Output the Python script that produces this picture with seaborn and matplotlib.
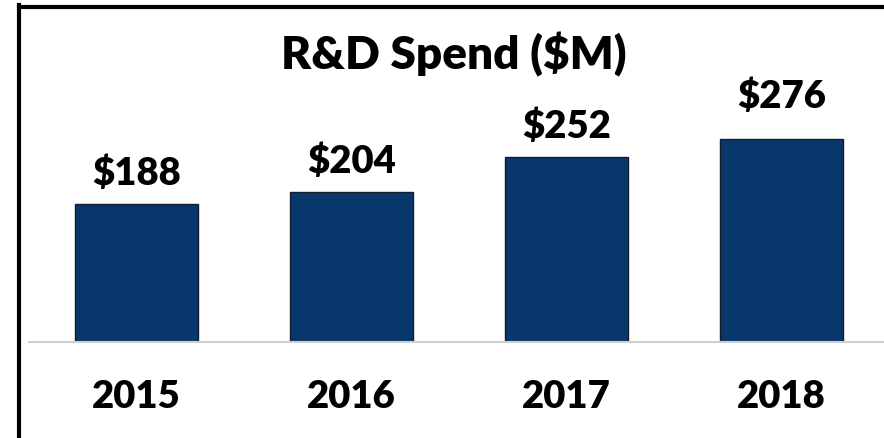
import matplotlib
matplotlib.use("Agg")
import matplotlib.pyplot as plt
import seaborn as sns
import pandas as pd
from matplotlib.lines import Line2D

years = ["2015", "2016", "2017", "2018"]
spend = [188, 204, 252, 276]
value_labels = ["$188", "$204", "$252", "$276"]
title = "R&D Spend ($M)"

sns.set_theme(style="white")
plt.rcParams["font.family"] = ["Lato", "DejaVu Sans"]

W, H = 884, 439
fig = plt.figure(figsize=(W / 100, H / 100), dpi=100)
fig.patch.set_facecolor("white")

ax_left, ax_right, ax_bottom, ax_top = 29, 884, 343, 10
ax = fig.add_axes([ax_left / W, (H - ax_bottom) / H,
                   (ax_right - ax_left) / W, (ax_bottom - ax_top) / H])

df = pd.DataFrame({"year": years, "spend": spend})
sns.barplot(data=df, x="year", y="spend", ax=ax, color="#08386B",
            width=0.572, edgecolor="#141c2a", linewidth=1.0, saturation=1)

ax.set_xlim(-0.5, -0.5 + (ax_right - ax_left) / 215)
ax.set_ylim(0, (ax_bottom - ax_top) / 0.735)

WEIGHT = "heavy"
for i, (v, lab) in enumerate(zip(spend, value_labels)):
    ax.annotate(lab, (i, v), xytext=(0, 14.4 if i < 3 else 23), textcoords="offset points",
                ha="center", va="baseline", fontsize=27.5, fontweight=WEIGHT, color="black")

for s in ["top", "right", "left"]:
    ax.spines[s].set_visible(False)
ax.spines["bottom"].set_color("#d0d0d0")
ax.spines["bottom"].set_linewidth(1.5)
ax.set_yticks([])
ax.set_xlabel("")
ax.set_ylabel("")
ax.tick_params(axis="x", length=0, pad=27, labelsize=27.5)
for t in ax.get_xticklabels():
    t.set_fontweight(WEIGHT)
    t.set_color("black")
ax.set_facecolor("white")

fig.text(453.5 / W, 1 - 69 / H, title, ha="center", va="baseline",
         fontsize=33, fontweight=WEIGHT, color="black")

# frame lines (left and top)
fig.add_artist(Line2D([19 / W, 19 / W], [0, 1 - 6 / H], color="black", linewidth=3,
                      transform=fig.transFigure, solid_capstyle="projecting"))
fig.add_artist(Line2D([19 / W, 1], [1 - 8 / H, 1 - 8 / H], color="black", linewidth=3,
                      transform=fig.transFigure, solid_capstyle="projecting"))

fig.savefig("out.png", dpi=100)
